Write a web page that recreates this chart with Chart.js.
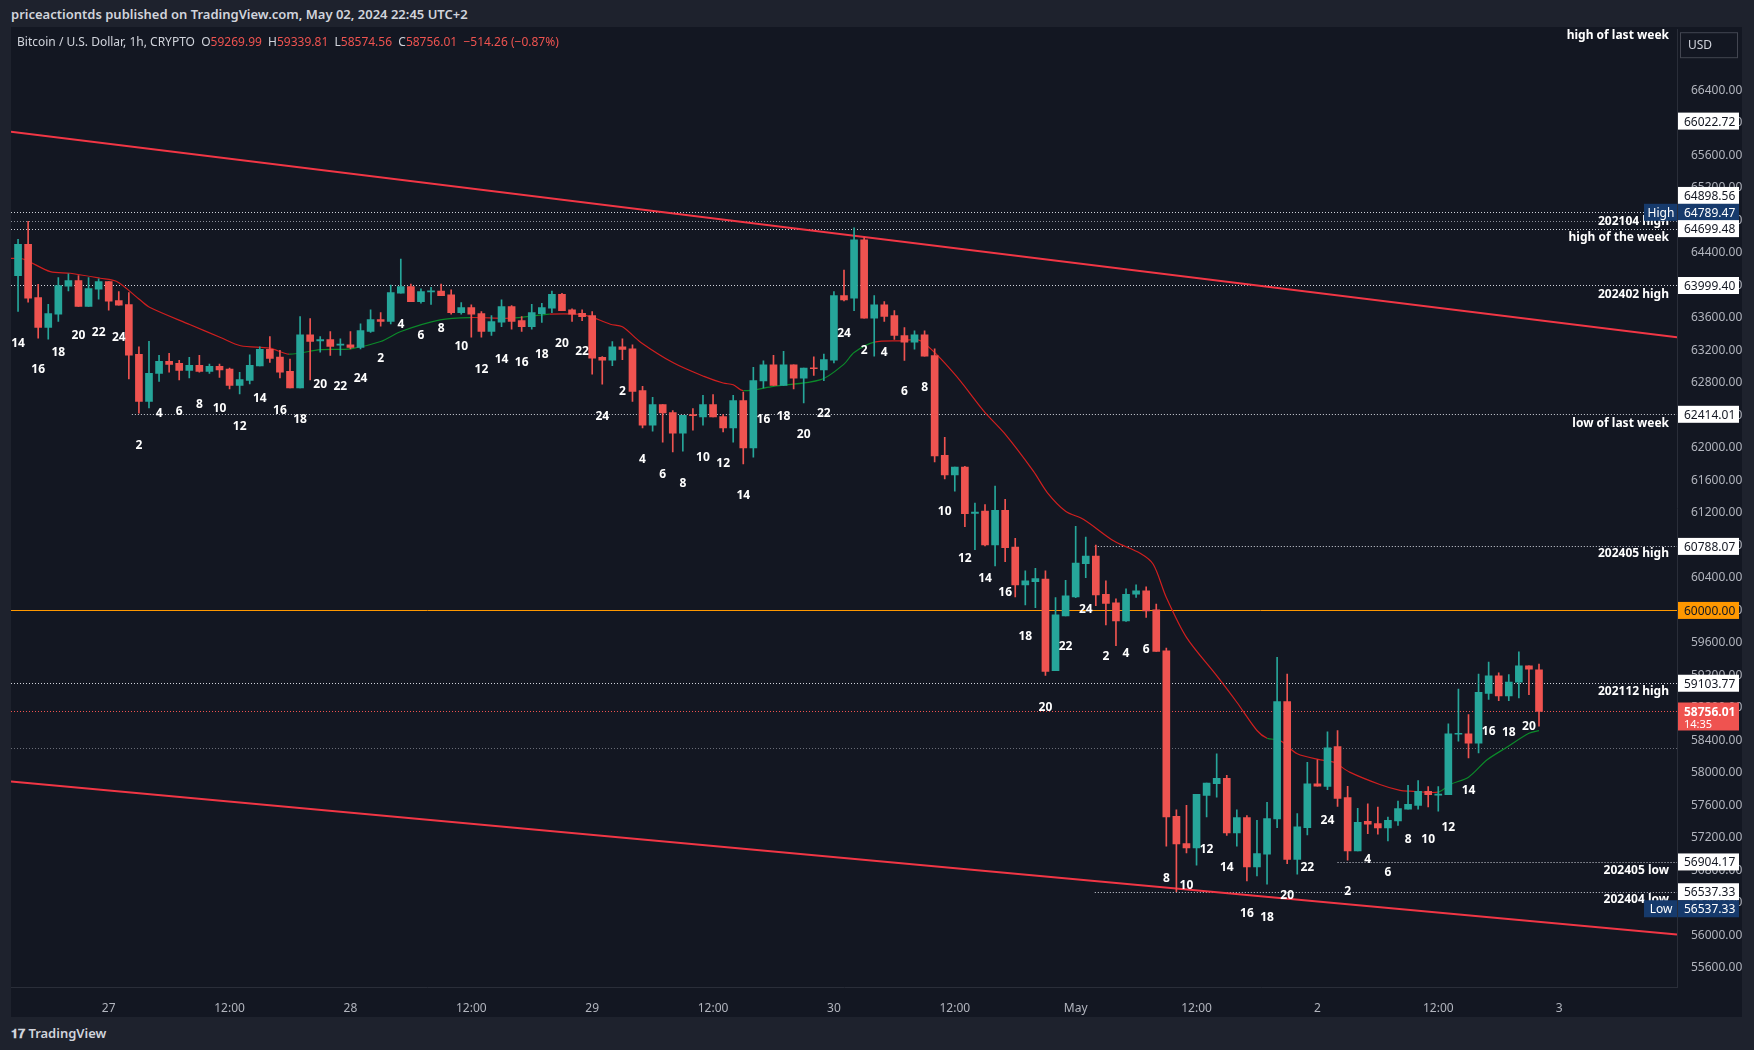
<!DOCTYPE html>
<html>
<head>
<meta charset="utf-8">
<script src="https://cdn.jsdelivr.net/npm/chart.js@4.4.1/dist/chart.umd.min.js"></script>
<style>
  html, body { margin: 0; padding: 0; background: #1e222d; width: 1754px; height: 1050px; overflow: hidden; font-family: 'Noto Sans', sans-serif; }
  #frame { position: absolute; left: 11px; top: 27px; width: 1731px; height: 990px; background: #131722; }
  #chart { position: absolute; left: 11px; top: 16px; }
  #pub { position: absolute; left: 11px; top: 5px; color: #d1d4dc; font-size: 13px; font-weight: 600; }
  #sym { position: absolute; left: 17px; top: 33px; color: #d1d4dc; font-size: 12px; white-space: pre; }
  #sym .r { color: #ef5350; }
  #logo { position: absolute; left: 11px; top: 1024px; color: #d1d4dc; font-size: 13px; font-weight: 600; }
</style>
</head>
<body>
<div id="pub">priceactiontds published on TradingView.com, May 02, 2024 22:45 UTC+2</div>
<div id="frame"></div>
<canvas id="chart" width="1731" height="1001"></canvas>
<div id="sym">Bitcoin / U.S. Dollar, 1h, CRYPTO  O<span class="r">59269.99</span>  H<span class="r">59339.81</span>  L<span class="r">58574.56</span>  C<span class="r">58756.01</span>  <span class="r">−514.26 (−0.87%)</span></div>
<div id="logo"><b>𝟏𝟕</b> TradingView</div>
<script>
// hourly candles, hour 0 = Apr 27 00:00
const firstHour = -9;
const opens = [64121,64506,63851,63483,63647,63990,64060,63741,63954,64048,63815,63765,63151,62574,62918,63065,63040,62955,63016,62943,63004,62971,62771,62832,63008,63213,63119,62943,62738,63393,
63318,63335,63265,63269,63236,63433,63580,63556,63904,63985,63801,63920,63932,63883,63666,63728,63654,63433,63548,63740,63568,63494,63654,63719,63891,63699,63658,63630,63114,
63081,63245,63220,62705,62279,62533,62435,62181,62406,62382,62533,62386,62246,62582,62001,62824,63024,62770,63024,62860,62987,62959,63081,63875,63842,64563,63597,63761,63629,
63384,63302,63392,63138,61910,61669,61763,61195,61222,60805,61231,60780,60314,60355,60387,59258,59933,60167,60576,60670,60199,60093,59872,60200,60240,60007,59504,57466,57130,57077,57724,57867,57932,57261,57449,56843,57000,57433,58878,56934,57327,57867,57834,58325,57695,57040,57404,57376,57322,57408,
57555,57600,57772,57727,57731,58476,58480,58365,58979,59196,58947,59118,59319,59269.99];
const highs = [64567,64789.47,64015,63769,64097,64142,64121,64097,64081,64048,63925,63913,63245,63311,63139,63164,63078,63114,63139,63032,63032,62984,62930,63147,63245,63372,63200,63094,63618,63593,
63372,63433,63343,63433,63527,63699,63666,64006,64325,64018,63957,63977,64018,63945,63789,63760,63679,63630,63822,63752,63617,63769,63781,63932,63904,63711,63699,63679,63126,
63310,63343,63270,62758,62623,62533,62459,62402,62484,62647,62656,62410,62647,62688,62991,63073,63139,63188,63024,62983,63122,63155,63924,64190,64710,64588,63875,63802,63691,
63482,63441,63441,63220,62131,61763,61775,61321,61304,61529,61366,60887,60486,60518,60486,60158,60371,61034,60903,60805,60363,60142,60265,60314,60290,60077,59537,57547,57601,57736,57875,58235,57969,57547,57474,57417,57638,59422,59217,57498,58129,58162,58505,58522,57834,57564,57621,57580,57457,57654,
57846,57907,57833,57833,58603,59032,58717,59217,59364,59233,59209,59491,59319,59339.81];
const lows = [63679,63794,63352,63340,63557,63933,63741,63741,63831,63696,63757,62848,62427,62492,62820,62934,62836,62861,62934,62918,62869,62726,62664,62787,63008,63053,62861,62738,62738,62836,
63179,63138,63138,63220,63220,63421,63498,63527,63904,63801,63781,63768,63875,63646,63646,63363,63363,63384,63494,63462,63433,63462,63544,63666,63691,63556,63568,62909,62786,
63012,63085,62574,62246,62205,62070,61952,61960,62218,62279,62382,62197,62070,61804,61886,62738,62770,62770,62725,62553,62893,62828,63045,63810,63691,63597,63130,63556,63335,
63077,63216,63130,61828,61619,61468,61030,60748,60793,60547,60600,60166,60068,60035,59201,59258,59933,60158,60404,60060,59823,59565,59864,60159,59913,59496,57097,56537.33,57015,56864,57457,57703,57232,57097,56671,56733,56630,57326,56884,56753,57237,57838,57793,57588,56925,57040,57253,57245,57163,57355,
57555,57555,57580,57530,57731,58390,58185,58247,58906,58889,58889,58922,58963,58574.56];
const closes = [64506,63843,63483,63655,63999,64060,63741,63962,64048,63806,63757,63143,62574,62918,63065,63028,62955,63016,62943,63004,62959,62771,62840,63016,63213,63102,62934,62738,63393,63311,
63335,63249,63273,63236,63445,63580,63556,63912,63985,63801,63924,63924,63875,63666,63728,63646,63433,63556,63740,63556,63494,63666,63728,63891,63691,63646,63617,63105,63081,
63245,63212,62697,62279,62533,62431,62181,62402,62398,62533,62382,62246,62582,62001,62828,63024,62770,63024,62860,62983,62975,63089,63875,63822,64563,63597,63761,63618,63384,
63302,63392,63130,61902,61669,61763,61190,61210,60805,61231,60772,60314,60363,60392,59250,59945,60179,60584,60670,60191,60085,59872,60199,60240,59995,59496,57457,57126,57077,57736,57875,57932,57261,57449,56843,57007,57437,58878,56934,57335,57867,57838,58309,57687,57040,57392,57368,57322,57417,57560,
57612,57772,57731,57735,58480,58484,58365,58992,59196,58947,59118,59319,59278,58756.01];

// moving average (hour, price)
const maHours = [-9.8,-8.5,-5.8,-3.8,-0.85,0.8,3.1,4.1,8.1,11.1,13.1,16,17.9,21,24,27,29,32.9,35.9,39.9,43.8,46.5,47.8,49.8,51,52.8,56.1,59.1,61,62,63,66,70.7,73,74,76,78.6,80.6,83.9,86.9,88.9,91.8,93.2,95,96.8,99.8,102.4,103.7,105,107,110,112,114,115,116.3,118,120.3,121.6,123.2,126.2,128.2,129.2,132,133.2,135,136.85,138.8,141,142];
const maValues = [64334,64326,64170,64150,64089,64048,63823,63728,63516,63360,63258,63229,63155,63209,63220,63310,63433,63576,63605,63597,63646,63646,63617,63523,63491,63302,63045,62881,62799,62778,62705,62758,62840,63032,63175,63302,63319,63318,62921,62450,62184,61714,61448,61222,61120,60854,60703,60568,60159,59668,59197,58870,58522,58427,58399,58235,58161,58133,58010,57858,57785,57776,57764,57858,57948,58161,58316,58488,58521];

// trend lines [hour, price]
const upperTrend = [[-9.7, 65892], [155.7, 63363]];
const lowerTrend = [[-9.7, 57895], [155.7, 56011]];

// x axis
const xTickHours = [0, 12, 24, 36, 48, 60, 72, 84, 96, 108, 120, 132, 144];
const xTickLabels = ['27', '12:00', '28', '12:00', '29', '12:00', '30', '12:00', 'May', '12:00', '2', '12:00', '3'];

// horizontal levels: price, start hour
const levelPrices = [64898.56, 64789.47, 64699.48, 63999.40, 62414.01, 60788.07, 59103.77, 56904.17, 56537.33];
const levelStart = [-9.7, -9.7, -9.7, -9.7, 2.3, 97.9, -9.7, 122, 97.9];
const levelNames = ['high of last week', '202104 high', 'high of the week', '202402 high', 'low of last week', '202405 high', '202112 high', '202405 low', '202404 low'];
const levelNamePrices = [67080, 64784, 64587, 63887, 62303, 60694, 58999, 56801, 56445];
const round60k = 60000;
const lastPrice = 58756.01;
const prevLine = 58306;

// hour labels under/over candles, every 2 hours starting at first candle
const hourTexts = ['14','16','18','20','22','24','2','4','6','8','10','12','14','16','18','20','22','24','2','4','6','8','10','12','14','16','18','20','22','24','2','4','6','8','10','12','14','16','18','20','22','24','2','4','6','8','10','12','14','16','18','20','22','24','2','4','6','8','10','12','14','16','18','20','22','24','2','4','6','8','10','12','14','16','18','20'];
const hourTextPrices = [63281,62965,63171,63377,63418,63363,62030,62429,62443,62539,62484,62264,62608,62457,62347,62786,62759,62855,63102,63515,63377,63473,63253,62965,63088,63047,63143,63281,63184,62388,62690,61852,61673,61563,61879,61811,61412,62347,62388,62168,62429,63404,63198,63171,62690,62745,61220,60643,60395,60217,59681,58801,59557,60010,59433,59474,59516,56699,56617,57056,56837,56273,56218,56493,56837,57414,56534,56933,56768,57180,57180,57331,57784,58513,58499,58568];

const UP = '#26a69a', DOWN = '#ef5350';
const candleColor = i => closes[i] >= opens[i] ? UP : DOWN;

const bodies = opens.map((o, i) => ({ x: firstHour + i, y: [o, closes[i]] }));
const wicks = lows.map((l, i) => ({ x: firstHour + i, y: [l, highs[i]] }));
const maData = maHours.map((h, i) => ({ x: h, y: maValues[i] }));

function maColor(c) {
  const i = Math.round(c.p1.parsed.x) - firstHour;
  if (i < 0 || i >= closes.length) return '#0b8a2a';
  return closes[i] >= c.p1.parsed.y ? '#0b8a2a' : '#d01f1f';
}

const overlay = {
  id: 'overlay',
  beforeDatasetsDraw(chart) {
    const { ctx, chartArea: a, scales: { x, y } } = chart;
    ctx.save();
    ctx.lineWidth = 1;
    ctx.setLineDash([1, 2]);
    levelPrices.forEach((p, i) => {
      const py = Math.round(y.getPixelForValue(p)) + 0.5;
      ctx.strokeStyle = i === 1 ? '#8a8e99' : '#d1d4dc';
      ctx.beginPath(); ctx.moveTo(Math.max(a.left, x.getPixelForValue(levelStart[i])), py); ctx.lineTo(a.right, py); ctx.stroke();
    });
    let py = Math.round(y.getPixelForValue(lastPrice)) + 0.5;
    ctx.strokeStyle = '#ef5350';
    ctx.beginPath(); ctx.moveTo(a.left, py); ctx.lineTo(a.right, py); ctx.stroke();
    py = Math.round(y.getPixelForValue(prevLine)) + 0.5;
    ctx.strokeStyle = '#6a6d78';
    ctx.beginPath(); ctx.moveTo(a.left, py); ctx.lineTo(a.right, py); ctx.stroke();
    ctx.setLineDash([]);
    py = Math.round(y.getPixelForValue(round60k)) + 0.5;
    ctx.strokeStyle = '#ff9800';
    ctx.beginPath(); ctx.moveTo(a.left, py); ctx.lineTo(a.right, py); ctx.stroke();
    ctx.restore();
  },
  afterDatasetsDraw(chart) {
    const { ctx, chartArea: a, scales: { x, y } } = chart;
    ctx.save();
    ctx.fillStyle = '#ffffff';
    ctx.font = 'bold 12px "Noto Sans"';
    ctx.textBaseline = 'middle';
    ctx.textAlign = 'right';
    levelNames.forEach((t, i) => ctx.fillText(t, a.right - 8, y.getPixelForValue(levelNamePrices[i])));
    ctx.textAlign = 'center';
    hourTexts.forEach((t, i) => ctx.fillText(t, x.getPixelForValue(firstHour + 2 * i), y.getPixelForValue(hourTextPrices[i])));
    ctx.restore();
  },
  afterDraw(chart) {
    const { ctx, chartArea: a, scales: { y } } = chart;
    const bx = a.right + 1, bw = 61, bh = 17;
    ctx.save();
    ctx.font = '12px "Noto Sans"';
    ctx.textBaseline = 'middle';
    ctx.textAlign = 'left';
    const box = (p, bg, fg, dy) => {
      const cy = y.getPixelForValue(p) + (dy || 0);
      ctx.fillStyle = bg; ctx.fillRect(bx, cy - bh / 2, bw, bh);
      ctx.fillStyle = fg; ctx.fillText(p.toFixed(2), bx + 6, cy + 1);
      return cy;
    };
    box(66022.72, '#ffffff', '#131722');
    box(64898.56, '#ffffff', '#131722', -17);
    const hy = box(64789.47, '#163a6c', '#ffffff', -9);
    box(64699.48, '#ffffff', '#131722', 0);
    box(63999.40, '#ffffff', '#131722');
    box(62414.01, '#ffffff', '#131722');
    box(60788.07, '#ffffff', '#131722');
    box(60000, '#ff9800', '#131722');
    box(59103.77, '#ffffff', '#131722');
    box(56904.17, '#ffffff', '#131722');
    box(56537.33, '#ffffff', '#131722');
    const ly = box(56537.33, '#163a6c', '#ffffff', 17);
    // badges
    ctx.fillStyle = '#163a6c';
    ctx.fillRect(bx - 34, hy - bh / 2, 33, bh);
    ctx.fillRect(bx - 34, ly - bh / 2, 33, bh);
    ctx.fillStyle = '#ffffff';
    ctx.textAlign = 'center';
    ctx.fillText('High', bx - 17, hy + 1);
    ctx.fillText('Low', bx - 17, ly + 1);
    // last price
    const cy = y.getPixelForValue(lastPrice);
    ctx.fillStyle = '#ef5350';
    ctx.fillRect(bx, cy - 9, bw, 28);
    ctx.fillStyle = '#ffffff';
    ctx.textAlign = 'left';
    ctx.font = 'bold 12px "Noto Sans"';
    ctx.fillText(lastPrice.toFixed(2), bx + 6, cy + 1);
    ctx.font = '11px "Noto Sans"';
    ctx.fillText('14:35', bx + 6, cy + 13);
    // USD
    ctx.fillStyle = '#131722';
    ctx.fillRect(bx + 2, a.top + 3, 58, 26);
    ctx.strokeStyle = '#434651';
    ctx.strokeRect(bx + 2.5, a.top + 3.5, 57, 25);
    ctx.fillStyle = '#d1d4dc';
    ctx.font = '12px "Noto Sans"';
    ctx.fillText('USD', bx + 10, a.top + 16);
    ctx.restore();
  }
};

new Chart(document.getElementById('chart'), {
  type: 'bar',
  data: {
    datasets: [
      { type: 'line', data: upperTrend.map(p => ({ x: p[0], y: p[1] })), borderColor: '#f23645', borderWidth: 2, pointRadius: 0, order: 3 },
      { type: 'line', data: lowerTrend.map(p => ({ x: p[0], y: p[1] })), borderColor: '#f23645', borderWidth: 2, pointRadius: 0, order: 3 },
      { type: 'line', data: maData, borderWidth: 1.2, pointRadius: 0, tension: 0.3, segment: { borderColor: maColor }, borderColor: '#d01f1f', order: 2 },
      { data: wicks, barThickness: 1, grouped: false, backgroundColor: c => candleColor(c.dataIndex), order: 1 },
      { data: bodies, barThickness: 7, grouped: false, minBarLength: 1, backgroundColor: c => candleColor(c.dataIndex), order: 0 }
    ]
  },
  options: {
    responsive: false,
    animation: false,
    devicePixelRatio: 1,
    events: [],
    layout: { padding: 0 },
    plugins: { legend: { display: false }, tooltip: { enabled: false } },
    scales: {
      x: {
        type: 'linear', min: -9.7, max: 155.7, offset: false,
        grid: { display: false },
        border: { color: '#2a2e39' },
        afterBuildTicks: ax => { ax.ticks = xTickHours.map(v => ({ value: v })); },
        afterFit: ax => { ax.height = 30; },
        ticks: { color: '#b2b5be', font: { size: 12, family: 'Noto Sans' }, maxRotation: 0, autoSkip: false, padding: 6,
          callback: v => xTickLabels[xTickHours.indexOf(v)] }
      },
      y: {
        position: 'right', min: 55365, max: 67154,
        grid: { display: false },
        border: { color: '#2a2e39' },
        afterBuildTicks: ax => { ax.ticks = ax.ticks.filter(t => t.value <= 66400 && t.value % 400 === 0); },
        afterFit: ax => { ax.width = 65; },
        ticks: { stepSize: 400, color: '#b2b5be', font: { size: 12, family: 'Noto Sans' }, padding: 6,
          callback: v => v.toFixed(2) }
      }
    }
  },
  plugins: [overlay]
});
</script>
</body>
</html>
